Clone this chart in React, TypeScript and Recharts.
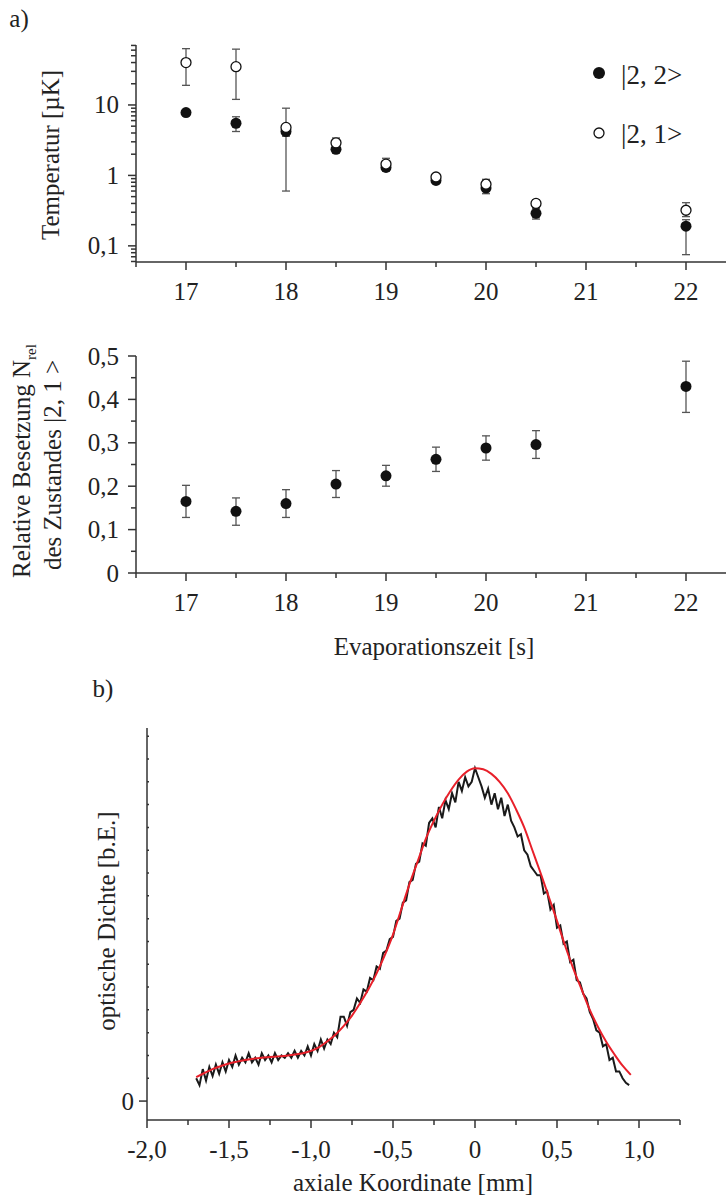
import React from "react";
import {
  ScatterChart,
  Scatter,
  ComposedChart,
  Line,
  XAxis,
  YAxis,
  ErrorBar,
} from "recharts";

const FONT = '"Liberation Serif", "Times New Roman", serif';
const INK = "#222";
const AXIS = "#333";
const FS = 25;

// a) evaporation times and temperatures
const evapTimes = [17, 17.5, 18, 18.5, 19, 19.5, 20, 20.5, 22];
const temp22 = [7.8, 5.5, 4.2, 2.35, 1.3, 0.85, 0.66, 0.29, 0.19];
const temp22Low = [7.3, 4.2, 3.6, 2.1, 1.15, 0.8, 0.55, 0.24, 0.075];
const temp22High = [8.3, 6.8, 4.8, 2.6, 1.45, 0.9, 0.78, 0.34, 0.235];
const temp21 = [40, 35, 4.8, 2.9, 1.45, 0.95, 0.75, 0.4, 0.32];
const temp21Low = [19, 12, 0.6, 2.5, 1.25, 0.85, 0.62, 0.35, 0.26];
const temp21High = [63, 62, 9, 3.4, 1.75, 1.05, 0.88, 0.45, 0.41];

// relative population of |2,1>
const nRel = [0.165, 0.142, 0.16, 0.205, 0.224, 0.262, 0.288, 0.296, 0.43];
const nRelLow = [0.128, 0.11, 0.128, 0.174, 0.2, 0.234, 0.26, 0.264, 0.37];
const nRelHigh = [0.202, 0.173, 0.192, 0.236, 0.248, 0.29, 0.316, 0.328, 0.488];

const timeTicks = [16.5, 17, 17.5, 18, 18.5, 19, 19.5, 20, 20.5, 21, 21.5, 22];
const timeTickLabels = ["", "17", "", "18", "", "19", "", "20", "", "21", "", "22"];

const tempTicks = [
  0.06, 0.07, 0.08, 0.09, 0.1, 0.2, 0.3, 0.4, 0.5, 0.6, 0.7, 0.8, 0.9, 1, 2, 3, 4,
  5, 6, 7, 8, 9, 10, 20, 30, 40, 50, 60, 70,
];
const tempTickLabels = [
  "", "", "", "", "0,1", "", "", "", "", "", "", "", "", "1", "", "", "",
  "", "", "", "", "", "10", "", "", "", "", "", "",
];

const nRelTicks = [0, 0.05, 0.1, 0.15, 0.2, 0.25, 0.3, 0.35, 0.4, 0.45, 0.5];
const nRelTickLabels = ["0", "", "0,1", "", "0,2", "", "0,3", "", "0,4", "", "0,5"];

// b) axial density profile
const odTrace: [number, number][] = [
  [-1.7, 0.1], [-1.68, 0.07], [-1.66, 0.14], [-1.64, 0.09], [-1.62, 0.15],
  [-1.6, 0.11], [-1.58, 0.16], [-1.56, 0.12], [-1.54, 0.17], [-1.52, 0.13],
  [-1.5, 0.18], [-1.48, 0.15], [-1.46, 0.2], [-1.44, 0.16], [-1.42, 0.19],
  [-1.4, 0.17], [-1.38, 0.21], [-1.36, 0.17], [-1.34, 0.19], [-1.32, 0.16],
  [-1.3, 0.21], [-1.28, 0.18], [-1.26, 0.2], [-1.24, 0.17], [-1.22, 0.21],
  [-1.2, 0.18], [-1.18, 0.2], [-1.16, 0.19], [-1.14, 0.21], [-1.12, 0.19],
  [-1.1, 0.22], [-1.08, 0.19], [-1.06, 0.22], [-1.04, 0.2], [-1.02, 0.24],
  [-1.0, 0.2], [-0.98, 0.25], [-0.96, 0.22], [-0.94, 0.27], [-0.92, 0.23],
  [-0.9, 0.27], [-0.88, 0.25], [-0.86, 0.3], [-0.84, 0.28], [-0.82, 0.37],
  [-0.8, 0.37], [-0.78, 0.33], [-0.76, 0.39], [-0.74, 0.4], [-0.72, 0.45],
  [-0.7, 0.43], [-0.68, 0.49], [-0.66, 0.48], [-0.64, 0.54], [-0.62, 0.53],
  [-0.6, 0.59], [-0.58, 0.58], [-0.56, 0.65], [-0.54, 0.66], [-0.52, 0.71],
  [-0.5, 0.72], [-0.48, 0.79], [-0.46, 0.8], [-0.44, 0.87], [-0.42, 0.88],
  [-0.4, 0.96], [-0.38, 0.97], [-0.36, 1.04], [-0.34, 1.05], [-0.32, 1.13],
  [-0.3, 1.12], [-0.28, 1.22], [-0.26, 1.24], [-0.24, 1.2], [-0.22, 1.29],
  [-0.2, 1.24], [-0.18, 1.32], [-0.16, 1.28], [-0.14, 1.35], [-0.12, 1.31],
  [-0.1, 1.4], [-0.08, 1.36], [-0.06, 1.42], [-0.04, 1.38], [-0.02, 1.4],
  [0.0, 1.46], [0.02, 1.42], [0.04, 1.38], [0.06, 1.33], [0.08, 1.37],
  [0.1, 1.3], [0.12, 1.35], [0.14, 1.28], [0.16, 1.33], [0.18, 1.25],
  [0.2, 1.3], [0.22, 1.23], [0.24, 1.2], [0.26, 1.16], [0.28, 1.17],
  [0.3, 1.1], [0.32, 1.08], [0.34, 1.03], [0.36, 1.01], [0.38, 0.99],
  [0.4, 0.99], [0.42, 0.91], [0.44, 0.92], [0.46, 0.84], [0.48, 0.86],
  [0.5, 0.76], [0.52, 0.77], [0.54, 0.69], [0.56, 0.7], [0.58, 0.61],
  [0.6, 0.62], [0.62, 0.53], [0.64, 0.52], [0.66, 0.47], [0.68, 0.45],
  [0.7, 0.39], [0.72, 0.36], [0.74, 0.31], [0.76, 0.3], [0.78, 0.24],
  [0.8, 0.25], [0.82, 0.18], [0.84, 0.19], [0.86, 0.13], [0.88, 0.13],
  [0.9, 0.1], [0.92, 0.08], [0.94, 0.07],
];

const odFit: [number, number][] = [
  [-1.7, 0.105], [-1.65, 0.123], [-1.6, 0.14], [-1.55, 0.153], [-1.5, 0.165],
  [-1.45, 0.173], [-1.4, 0.18], [-1.35, 0.186], [-1.3, 0.19], [-1.25, 0.193],
  [-1.2, 0.196], [-1.15, 0.199], [-1.1, 0.204], [-1.05, 0.21], [-1.0, 0.22],
  [-0.95, 0.237], [-0.9, 0.262], [-0.85, 0.292], [-0.8, 0.33], [-0.75, 0.375],
  [-0.7, 0.43], [-0.65, 0.49], [-0.6, 0.56], [-0.55, 0.64], [-0.5, 0.73],
  [-0.45, 0.84], [-0.4, 0.95], [-0.35, 1.05], [-0.3, 1.15], [-0.25, 1.23],
  [-0.2, 1.3], [-0.15, 1.36], [-0.1, 1.41], [-0.05, 1.445], [0.0, 1.46],
  [0.05, 1.455], [0.1, 1.435], [0.15, 1.4], [0.2, 1.35], [0.25, 1.28],
  [0.3, 1.2], [0.35, 1.1], [0.4, 1.0], [0.45, 0.895], [0.5, 0.79],
  [0.55, 0.68], [0.6, 0.58], [0.65, 0.49], [0.7, 0.4], [0.75, 0.325],
  [0.8, 0.26], [0.85, 0.205], [0.9, 0.155], [0.95, 0.115],
];

const axialTicks = [-2, -1.75, -1.5, -1.25, -1, -0.75, -0.5, -0.25, 0, 0.25, 0.5, 0.75, 1, 1.25];
const axialTickLabels = ["-2,0", "", "-1,5", "", "-1,0", "", "-0,5", "", "0", "", "0,5", "", "1,0", ""];
const odTicks = [0, 0.1, 0.2, 0.3, 0.4, 0.5, 0.6, 0.7, 0.8, 0.9, 1, 1.1, 1.2, 1.3, 1.4, 1.5, 1.6];
const odTickLabels = ["0", "", "", "", "", "", "", "", "", "", "", "", "", "", "", "", ""];

const series = (ys: number[], lo: number[], hi: number[]) =>
  evapTimes.map((x, i) => ({ x, y: ys[i], err: [ys[i] - lo[i], hi[i] - ys[i]] }));

const data22 = series(temp22, temp22Low, temp22High);
const data21 = series(temp21, temp21Low, temp21High);
const dataRel = series(nRel, nRelLow, nRelHigh);
const traceData = odTrace.map(([x, y]) => ({ x, y }));
const fitData = odFit.map(([x, y]) => ({ x, y }));

const xTick = (values: number[], labels: string[]) => (props: any) => {
  const { x, y, payload } = props;
  const label = labels[values.indexOf(payload.value)] ?? "";
  return (
    <g>
      <line x1={x} x2={x} y1={y} y2={y + (label ? 8 : 5)} stroke={AXIS} strokeWidth={1.5} />
      {label && (
        <text x={x} y={y + 29} textAnchor="middle" dominantBaseline="central" fontFamily={FONT} fontSize={FS} fill={INK}>
          {label}
        </text>
      )}
    </g>
  );
};

const yTick = (values: number[], labels: string[], gap = 17, minorInside = false) => (props: any) => {
  const { x, y, payload } = props;
  const label = labels[values.indexOf(payload.value)] ?? "";
  const x2 = label ? x - 8 : minorInside ? x + 2 : x - 5;
  return (
    <g>
      <line x1={x} x2={x2} y1={y} y2={y} stroke={AXIS} strokeWidth={1.5} />
      {label && (
        <text x={x - gap} y={y} textAnchor="end" dominantBaseline="central" fontFamily={FONT} fontSize={FS} fill={INK}>
          {label}
        </text>
      )}
    </g>
  );
};

const filledDot = (props: any) => <circle cx={props.cx} cy={props.cy} r={5.5} fill="#111" />;
const openDot = (props: any) => (
  <circle cx={props.cx} cy={props.cy} r={5} fill="#fff" stroke="#111" strokeWidth={1.3} />
);

const text = (left: number, top: number, size = FS): React.CSSProperties => ({
  position: "absolute",
  left,
  top,
  transform: "translate(-50%, -50%)",
  whiteSpace: "nowrap",
  fontFamily: FONT,
  fontSize: size,
  color: INK,
  lineHeight: 1,
});

const vtext = (left: number, top: number, size = FS): React.CSSProperties => ({
  ...text(left, top, size),
  transform: "translate(-50%, -50%) rotate(-90deg)",
});

export default function App() {
  return (
    <div style={{ position: "absolute", left: 0, top: 0, width: 726, height: 1196, background: "#fff" }}>
      <div style={{ position: "absolute", left: 0, top: 0 }}>
        <ScatterChart width={726} height={320} margin={{ top: 45, right: 0, bottom: 0, left: 0 }}>
          <XAxis
            type="number"
            dataKey="x"
            domain={[16.5, 22.4]}
            ticks={timeTicks}
            interval={0}
            height={58}
            tickSize={0}
            tickMargin={0}
            tickLine={false}
            axisLine={{ stroke: AXIS, strokeWidth: 1.5 }}
            tick={xTick(timeTicks, timeTickLabels)}
            allowDataOverflow
          />
          <YAxis
            type="number"
            dataKey="y"
            scale="log"
            domain={[0.059, 71]}
            ticks={tempTicks}
            interval={0}
            width={136}
            tickSize={0}
            tickMargin={0}
            tickLine={false}
            axisLine={{ stroke: AXIS, strokeWidth: 1.5 }}
            tick={yTick(tempTicks, tempTickLabels)}
            allowDataOverflow
          />
          <Scatter data={data22} shape={filledDot} isAnimationActive={false}>
            <ErrorBar dataKey="err" direction="y" width={4} stroke="#555" strokeWidth={1.3} />
          </Scatter>
          <Scatter data={data21} shape={openDot} isAnimationActive={false}>
            <ErrorBar dataKey="err" direction="y" width={4} stroke="#555" strokeWidth={1.3} />
          </Scatter>
        </ScatterChart>
      </div>

      <div style={{ position: "absolute", left: 0, top: 300 }}>
        <ScatterChart width={726} height={330} margin={{ top: 56, right: 0, bottom: 0, left: 0 }}>
          <XAxis
            type="number"
            dataKey="x"
            domain={[16.5, 22.4]}
            ticks={timeTicks}
            interval={0}
            height={57}
            tickSize={0}
            tickMargin={0}
            tickLine={false}
            axisLine={{ stroke: AXIS, strokeWidth: 1.5 }}
            tick={xTick(timeTicks, timeTickLabels)}
            allowDataOverflow
          />
          <YAxis
            type="number"
            dataKey="y"
            domain={[0, 0.5]}
            ticks={nRelTicks}
            interval={0}
            width={136}
            tickSize={0}
            tickMargin={0}
            tickLine={false}
            axisLine={{ stroke: AXIS, strokeWidth: 1.5 }}
            tick={yTick(nRelTicks, nRelTickLabels)}
          />
          <Scatter data={dataRel} shape={filledDot} isAnimationActive={false}>
            <ErrorBar dataKey="err" direction="y" width={4} stroke="#555" strokeWidth={1.3} />
          </Scatter>
        </ScatterChart>
      </div>

      <div style={{ position: "absolute", left: 0, top: 700 }}>
        <ComposedChart width={726} height={496} margin={{ top: 28, right: 46, bottom: 0, left: 0 }}>
          <XAxis
            type="number"
            dataKey="x"
            domain={[-2, 1.25]}
            ticks={axialTicks}
            interval={0}
            height={76}
            tickSize={0}
            tickMargin={0}
            tickLine={false}
            axisLine={{ stroke: AXIS, strokeWidth: 1.5 }}
            tick={xTick(axialTicks, axialTickLabels)}
            allowDataOverflow
          />
          <YAxis
            type="number"
            dataKey="y"
            domain={[-0.083, 1.636]}
            ticks={odTicks}
            interval={0}
            width={147}
            tickSize={0}
            tickMargin={0}
            tickLine={false}
            axisLine={{ stroke: AXIS, strokeWidth: 1.5 }}
            tick={yTick(odTicks, odTickLabels, 13, true)}
            allowDataOverflow
          />
          <Line data={traceData} dataKey="y" type="linear" stroke="#1a1a1a" strokeWidth={2} dot={false} isAnimationActive={false} />
          <Line data={fitData} dataKey="y" type="monotone" stroke="#e8202a" strokeWidth={2} dot={false} isAnimationActive={false} />
        </ComposedChart>
      </div>

      <div style={text(19, 18)}>a)</div>
      <div style={vtext(50, 155)}>Temperatur [µK]</div>

      <svg style={{ position: "absolute", left: 590, top: 64 }} width={20} height={80}>
        <circle cx={9} cy={9} r={6} fill="#111" />
        <circle cx={9} cy={69} r={5} fill="#fff" stroke="#111" strokeWidth={1.3} />
      </svg>
      <div style={{ ...text(621, 75, 27), transform: "translateY(-50%)" }}>|2, 2&gt;</div>
      <div style={{ ...text(621, 134, 27), transform: "translateY(-50%)" }}>|2, 1&gt;</div>

      <div style={vtext(24, 461)}>
        Relative Besetzung N<sub style={{ fontSize: 15 }}>rel</sub>
      </div>
      <div style={vtext(52, 465)}>des Zustandes |2, 1 &gt;</div>
      <div style={text(434, 646)}>Evaporationszeit [s]</div>

      <div style={text(103, 688)}>b)</div>
      <div style={vtext(106, 921)}>optische Dichte [b.E.]</div>
      <div style={text(413, 1182)}>axiale Koordinate [mm]</div>
    </div>
  );
}
